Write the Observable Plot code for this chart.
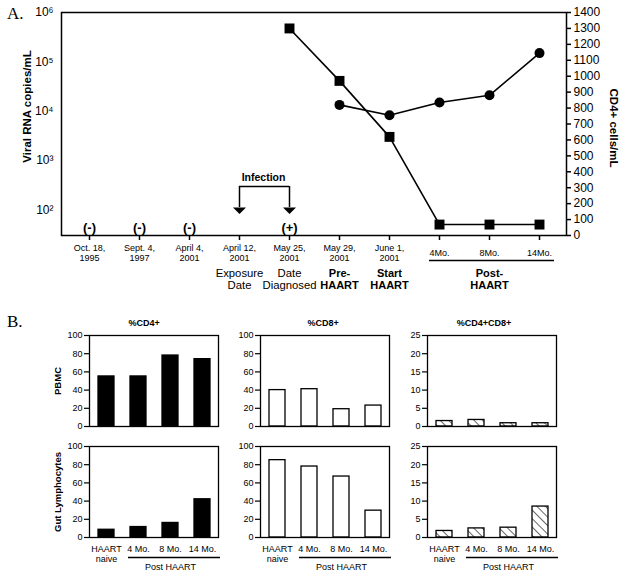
<!DOCTYPE html>
<html><head><meta charset="utf-8">
<script src="https://cdn.jsdelivr.net/npm/d3@7"></script>
<script src="https://cdn.jsdelivr.net/npm/@observablehq/plot@0.6"></script>
<style>
body{margin:0;background:#fff;}
#root{position:relative;width:621px;height:574px;overflow:hidden;background:#fff;font-family:"Liberation Sans",Arial,sans-serif;}
.abs{position:absolute;}
.abs svg{display:block;}
.letter{position:absolute;font-family:"Liberation Serif","Times New Roman",serif;font-size:17px;line-height:1;}
</style></head>
<body>
<div id="root">
<svg width="0" height="0" style="position:absolute;left:0;top:0">
 <defs><pattern id="hatch" patternUnits="userSpaceOnUse" width="6" height="6" patternTransform="rotate(-45)">
  <rect width="6" height="6" fill="white"/><line x1="0" y1="0" x2="0" y2="6" stroke="black" stroke-width="1.2"/></pattern></defs>
</svg>
<div class="letter" style="left:7px;top:5px">A.</div>
<div class="letter" style="left:7px;top:313px">B.</div>
</div>
<script>
// ---------- Panel A data ----------
const timepoints = ["Oct. 18, 1995","Sept. 4, 1997","April 4, 2001","April 12, 2001","May 25, 2001","May 29, 2001","June 1, 2001","4Mo.","8Mo.","14Mo."];
const tickLabels = ["Oct. 18,\n1995","Sept. 4,\n1997","April 4,\n2001","April 12,\n2001","May 25,\n2001","May 29,\n2001","June 1,\n2001","4Mo.","8Mo.","14Mo."];
const hivTest = ["(-)","(-)","(-)","","(+)","","","","",""];
const eventLabels = ["","","","Exposure\nDate","Date\nDiagnosed","Pre-\nHAART","Start\nHAART","","Post-\nHAART",""];
const eventBold = [false,false,false,false,false,true,true,false,true,false];
const viralTimes = ["May 25, 2001","May 29, 2001","June 1, 2001","4Mo.","8Mo.","14Mo."];
const viralRNA = [475000, 41000, 3000, 50, 50, 50];
const cd4Times = ["May 29, 2001","June 1, 2001","4Mo.","8Mo.","14Mo."];
const cd4Counts = [820, 755, 835, 880, 1145];
const logTicks = [1e2, 1e3, 1e4, 1e5, 1e6];
const cd4Ticks = [0,100,200,300,400,500,600,700,800,900,1000,1100,1200,1300,1400];

// ---------- Panel B data ----------
const periods = ["HAART naive","4 Mo.","8 Mo.","14 Mo."];
const periodLabels = ["HAART\nnaive","4 Mo.","8 Mo.","14 Mo."];
const pbmcCD4 = [55, 55, 78, 74];
const pbmcCD8 = [40, 41, 19, 23];
const pbmcCD4CD8 = [1.5, 1.8, 0.9, 0.9];
const gutCD4 = [8.5, 11.5, 16, 42];
const gutCD8 = [85, 78, 67, 29.5];
const gutCD4CD8 = [1.8, 2.5, 2.7, 8.5];
const colTitles = ["%CD4+","%CD8+","%CD4+CD8+"];
const rowLabels = ["PBMC","Gut Lymphocytes"];
const pctTicks = [0,20,40,60,80,100];
const dpTicks = [0,5,10,15,20,25];

const FONT = '"Liberation Sans", Arial, Helvetica, sans-serif';
const root = document.getElementById("root");
function place(node, left, top) {
  const d = document.createElement("div");
  d.className = "abs";
  d.style.left = left + "px"; d.style.top = top + "px";
  d.appendChild(node); root.appendChild(d);
}
const baseStyle = {fontFamily: FONT, background: "transparent", color: "black", overflow: "visible"};

// ---------- Panel A ----------
const A = {width: 621, height: 300, marginLeft: 61, marginRight: 55, marginTop: 12, marginBottom: 65};
const xA = {type: "point", domain: timepoints, padding: 0.5, axis: null};
const yLogDomain = [30, 1e6];
const viral = viralTimes.map((t, i) => ({t, v: viralRNA[i]}));
const cd4 = cd4Times.map((t, i) => ({t, v: cd4Counts[i]}));
const sup = {2: "\u00b2", 3: "\u00b3", 4: "\u2074", 5: "\u2075", 6: "\u2076"};
const downTriangle = {draw(ctx) { ctx.moveTo(-6.5, -3); ctx.lineTo(6.5, -3); ctx.lineTo(0, 3.5); ctx.closePath(); }};

const plotA1 = Plot.plot({
  ...A, style: baseStyle,
  x: xA,
  y: {type: "log", domain: yLogDomain, axis: null},
  marks: [
    Plot.frame({stroke: "black", strokeWidth: 1.5}),
    Plot.axisY({ticks: logTicks, tickFormat: d => "10" + sup[Math.round(Math.log10(d))], tickSize: 0, tickPadding: 8, fontSize: 12, label: null}),
    Plot.axisX({tickSize: 5, tickFormat: () => "", label: null, strokeWidth: 1.5}),
    Plot.text(timepoints, {x: d => d, text: (d, i) => tickLabels[i], frameAnchor: "bottom", dy: 17.5, lineAnchor: "middle", fontSize: 9, lineHeight: 1.05}),
    Plot.text(timepoints, {filter: (d, i) => eventLabels[i] !== "" && !eventBold[i], x: d => d, text: (d, i) => eventLabels[i], frameAnchor: "bottom", dy: 44, lineAnchor: "middle", fontSize: 11.3, lineHeight: 1.07}),
    Plot.text(timepoints, {filter: (d, i) => eventLabels[i] !== "" && eventBold[i], x: d => d, text: (d, i) => eventLabels[i], frameAnchor: "bottom", dy: 44, lineAnchor: "middle", fontSize: 11, fontWeight: "bold", lineHeight: 1.1}),
    Plot.ruleY([yLogDomain[0]], {x1: () => "4Mo.", x2: () => "14Mo.", dy: 25, insetLeft: -10, insetRight: -15, strokeWidth: 1.5}),
    Plot.text(timepoints, {filter: (d, i) => hivTest[i] !== "", x: d => d, text: (d, i) => hivTest[i], frameAnchor: "bottom", dy: -8, lineAnchor: "middle", fontSize: 13, fontWeight: "bold"}),
    Plot.ruleY([yLogDomain[0]], {x1: () => "April 12, 2001", x2: () => "May 25, 2001", dy: -49, strokeWidth: 1.5}),
    Plot.ruleX(["April 12, 2001", "May 25, 2001"], {insetTop: 174, insetBottom: 28, strokeWidth: 1.5}),
    Plot.dot(["April 12, 2001", "May 25, 2001"], {x: d => d, frameAnchor: "bottom", dy: -25, symbol: downTriangle, r: 6, fill: "black"}),
    Plot.text(["Infection"], {x: () => "April 12, 2001", dx: 24, frameAnchor: "bottom", dy: -58, lineAnchor: "middle", fontSize: 10.5, fontWeight: "bold"}),
    Plot.line(viral, {x: "t", y: "v", stroke: "black", strokeWidth: 1.6}),
    Plot.dot(viral, {x: "t", y: "v", symbol: "square", r: 5.6, fill: "black"}),
    Plot.text(["Viral RNA copies/mL"], {frameAnchor: "left", textAnchor: "middle", rotate: -90, dx: -34, dy: -17.5, fontSize: 11.5, fontWeight: "bold"})
  ]
});
place(plotA1, 0, 0);

const plotA2 = Plot.plot({
  ...A, style: baseStyle,
  x: xA,
  y: {domain: [0, 1400], axis: null},
  marks: [
    Plot.axisY({anchor: "right", ticks: cd4Ticks, tickFormat: d => String(d), tickSize: 4, tickPadding: 3, fontSize: 12, label: null, strokeWidth: 1.5}),
    Plot.line(cd4, {x: "t", y: "v", stroke: "black", strokeWidth: 1.6}),
    Plot.dot(cd4, {x: "t", y: "v", r: 5, fill: "black"}),
    Plot.text(["CD4+ cells/mL"], {frameAnchor: "right", textAnchor: "middle", rotate: 90, dx: 47, dy: 4, fontSize: 11.5, fontWeight: "bold"})
  ]
});
place(plotA2, 0, 0);

// ---------- Panel B ----------
const FW = 129, FH = 91;
const colLefts = [89, 260, 427];
const rowTops = [335, 446];
const titleDx = [-10, -2, -8];
const fills = ["black", "white", "url(#hatch)"];
const yMaxes = [100, 100, 25];
const values = [[pbmcCD4, pbmcCD8, pbmcCD4CD8], [gutCD4, gutCD8, gutCD4CD8]];

for (let r = 0; r < 2; r++) {
  for (let c = 0; c < 3; c++) {
    const mT = r === 0 ? 20 : 6, mB = r === 0 ? 6 : 40, mL = 42, mR = 14;
    const rows = periods.map((p, i) => ({p, v: values[r][c][i]}));
    const marks = [
      Plot.barY(rows, {x: "p", y: "v", fill: fills[c], stroke: "black", strokeWidth: 1.3}),
      Plot.frame({stroke: "black", strokeWidth: 1.3}),
      Plot.axisY({ticks: c === 2 ? dpTicks : pctTicks, tickSize: 5, tickPadding: 2, fontSize: 9, label: null, strokeWidth: 1.2})
    ];
    if (r === 0) marks.push(Plot.text([colTitles[c]], {frameAnchor: "top", dx: titleDx[c], dy: -12, lineAnchor: "middle", fontSize: 9, fontWeight: "bold"}));
    if (r === 1) {
      marks.push(Plot.axisX({tickSize: 0, tickPadding: 8, fontSize: 9, lineHeight: 1.05, tickFormat: d => periodLabels[periods.indexOf(d)], label: null}));
      marks.push(Plot.ruleY([0], {x1: () => "4 Mo.", x2: () => "14 Mo.", dy: 20, insetLeft: -2, insetRight: -10, strokeWidth: 1.3}));
      marks.push(Plot.text(["Post HAART"], {x: () => "8 Mo.", frameAnchor: "bottom", dy: 30, lineAnchor: "middle", fontSize: 9}));
    }
    if (c === 0) marks.push(Plot.text([rowLabels[r]], {frameAnchor: "left", textAnchor: "middle", rotate: -90, dx: -32, fontSize: 9.5, fontWeight: "bold"}));
    const p = Plot.plot({
      width: mL + FW + mR, height: mT + FH + mB,
      marginLeft: mL, marginRight: mR, marginTop: mT, marginBottom: mB,
      style: baseStyle,
      x: {domain: periods, paddingInner: 0.5, paddingOuter: 0.25, axis: null},
      y: {domain: [0, yMaxes[c]], axis: null},
      marks
    });
    place(p, colLefts[c] - mL, rowTops[r] - mT);
  }
}
</script>
</body></html>
